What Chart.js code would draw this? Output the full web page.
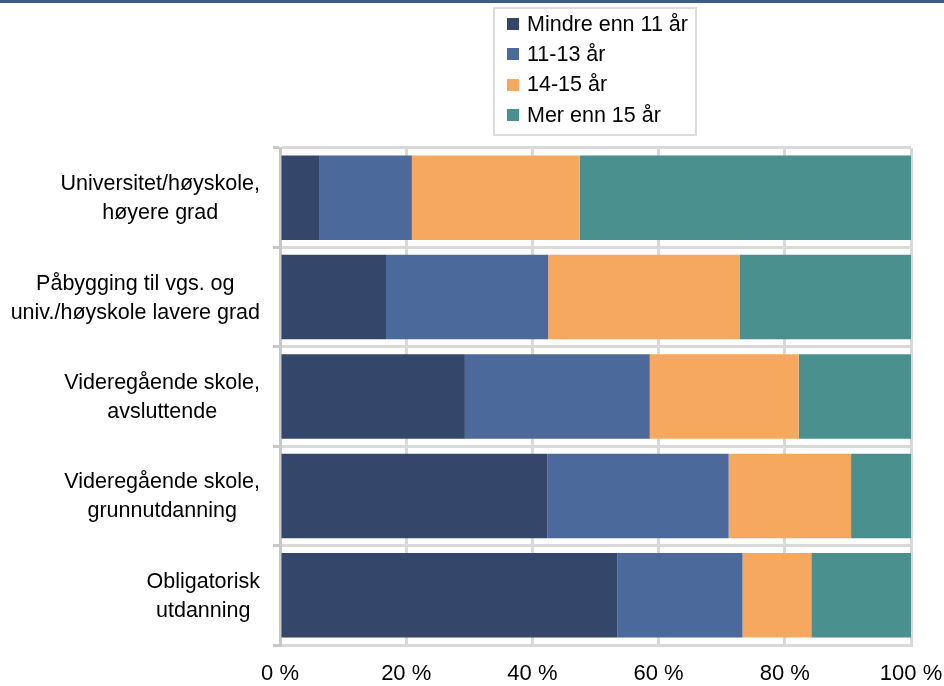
<!DOCTYPE html>
<html lang="no">
<head>
<meta charset="utf-8">
<script src="https://cdn.jsdelivr.net/npm/chart.js@4"></script>
<style>
    html, body { margin: 0; padding: 0; background: #fff; }
    #wrap { position: relative; width: 944px; height: 686px; box-sizing: border-box; border-top: 3px solid #3d5a8a; }
    #wrap canvas { display: block; }
    #legende {
        position: absolute; left: 493px; top: 4px; width: 204px; height: 129px;
        border: 2px solid #dcdcdc; font-family: "Liberation Sans", Arial, sans-serif;
        font-size: 21.5px; color: #000; box-sizing: border-box; padding-top: 0px;
    }
    #legende .rad { display: flex; align-items: center; height: 30.3px; padding-left: 12px; }
    #legende .boks { width: 12px; height: 12px; margin-right: 8px; }
</style>
</head>
<body>
<div id="wrap">
    <canvas id="utdChart" width="944" height="683"></canvas>
    <div id="legende"></div>
</div>
<script>
const kategorier = [
    ['Universitet/høyskole,', 'høyere grad'],
    ['Påbygging til vgs. og', 'univ./høyskole lavere grad'],
    ['Videregående skole,', 'avsluttende'],
    ['Videregående skole,', 'grunnutdanning'],
    ['Obligatorisk', 'utdanning']
];
const serieNavn = ['Mindre enn 11 år', '11-13 år', '14-15 år', 'Mer enn 15 år'];
const mindreEnn11 = [6.3, 16.8, 29.3, 42.4, 53.5];
const aar11til13 = [14.6, 25.7, 29.3, 28.7, 19.8];
const aar14til15 = [26.6, 30.4, 23.6, 19.4, 10.9];
const merEnn15 = [52.5, 27.1, 17.8, 9.5, 15.8];
const xTicks = [0, 20, 40, 60, 80, 100];
const farger = ['#34476a', '#4b6a9b', '#f6a95e', '#4a908e'];

const FONT = '"Liberation Sans", Arial, sans-serif';
let chart;

// tegner kategoritekstene: blokk høyrejustert, linjene sentrert
const kategoriTekst = {
    id: 'kategoriTekst',
    afterDraw(c) {
        const ctx = c.ctx;
        const yScale = c.scales.y;
        const hoyre = c.chartArea.left - 20;
        const linjeH = 29;
        ctx.save();
        ctx.font = '21.5px ' + FONT;
        ctx.fillStyle = '#000';
        ctx.textAlign = 'center';
        ctx.textBaseline = 'middle';
        kategorier.forEach((linjer, i) => {
            const y = yScale.getPixelForValue(i);
            const bredest = Math.max(...linjer.map(l => ctx.measureText(l).width));
            const midtX = hoyre - bredest / 2;
            const start = y - (linjer.length - 1) * linjeH / 2;
            linjer.forEach((l, j) => ctx.fillText(l, midtX, start + j * linjeH + 1));
        });
        ctx.restore();
    }
};

function main() {
    const serier = [mindreEnn11, aar11til13, aar14til15, merEnn15];

    chart = new Chart(document.getElementById('utdChart'), {
        type: 'bar',
        data: {
            labels: kategorier.map(k => k.join(' ')),
            datasets: serier.map((data, i) => ({
                label: serieNavn[i],
                data: data,
                backgroundColor: farger[i],
                borderWidth: 0,
                barPercentage: 0.85,
                categoryPercentage: 1
            }))
        },
        options: {
            indexAxis: 'y',
            responsive: false,
            animation: false,
            layout: { padding: { top: 145, right: 0, left: 0, bottom: 0 } },
            scales: {
                x: {
                    stacked: true,
                    min: 0,
                    max: 100,
                    afterBuildTicks: s => { s.ticks = xTicks.map(v => ({ value: v })); },
                    ticks: {
                        callback: v => v + ' %',
                        color: '#000',
                        font: { family: FONT, size: 22 },
                        padding: 16,
                        maxRotation: 0
                    },
                    grid: { color: '#d9d9d9', lineWidth: 3, drawTicks: false },
                    border: { color: '#d9d9d9', width: 3 },
                    afterFit: s => {
                        s.height = 41;
                        s.paddingLeft = 0;
                        s.paddingRight = 33;
                    }
                },
                y: {
                    stacked: true,
                    ticks: { display: false },
                    grid: { offset: true, color: '#d9d9d9', lineWidth: 3, tickLength: 7, tickColor: '#c8c8c8' },
                    border: { color: '#c8c8c8', width: 3 },
                    afterFit: s => { s.width = 280; }
                }
            },
            plugins: {
                legend: { display: false },
                tooltip: { enabled: false }
            }
        },
        plugins: [kategoriTekst]
    });

    // legende bygget fra datasettene
    const leg = document.getElementById('legende');
    chart.data.datasets.forEach(ds => {
        const rad = document.createElement('div');
        rad.className = 'rad';
        const boks = document.createElement('span');
        boks.className = 'boks';
        boks.style.background = ds.backgroundColor;
        const tekst = document.createElement('span');
        tekst.textContent = ds.label;
        rad.appendChild(boks);
        rad.appendChild(tekst);
        leg.appendChild(rad);
    });
}

window.onload = function () {
    main();
};
</script>
</body>
</html>
